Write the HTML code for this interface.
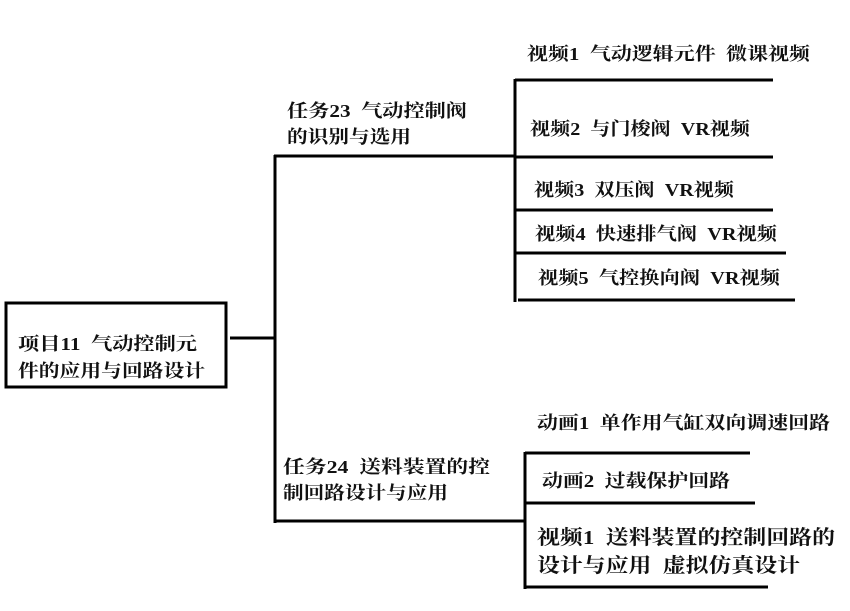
<!DOCTYPE html>
<html><head><meta charset="utf-8"><style>
html,body{margin:0;padding:0;background:#fff;}
svg{display:block;}
text{font-family:"Liberation Serif","Noto Serif CJK SC",serif;font-weight:bold;font-size:18px;fill:#111;white-space:pre;}
</style></head><body>
<svg width="850" height="611" viewBox="0 0 850 611" xmlns="http://www.w3.org/2000/svg" xml:space="preserve">
<g stroke="#000" stroke-width="3" fill="none">
<rect x="6" y="303" width="220" height="84"/>
<line x1="230" y1="338" x2="276" y2="338"/>
<line x1="275" y1="155" x2="275" y2="523"/>
<line x1="274" y1="156" x2="516" y2="156"/>
<line x1="515" y1="79" x2="515" y2="302"/>
<line x1="515" y1="80" x2="773" y2="80"/>
<line x1="515" y1="157" x2="773" y2="157"/>
<line x1="515" y1="210" x2="773" y2="210"/>
<line x1="515" y1="253" x2="786" y2="253"/>
<line x1="518" y1="300" x2="795" y2="300"/>
<line x1="274" y1="521" x2="526" y2="521"/>
<line x1="525" y1="452" x2="525" y2="589"/>
<line x1="525" y1="453" x2="750" y2="453"/>
<line x1="525" y1="503" x2="755" y2="503"/>
<line x1="525" y1="587" x2="768" y2="587"/>
</g>
<text x="18" y="350" textLength="179" lengthAdjust="spacingAndGlyphs">项目11  气动控制元</text>
<text x="18" y="377" textLength="187" lengthAdjust="spacingAndGlyphs">件的应用与回路设计</text>
<text x="287" y="117" textLength="180" lengthAdjust="spacingAndGlyphs">任务23  气动控制阀</text>
<text x="287" y="143" textLength="124" lengthAdjust="spacingAndGlyphs">的识别与选用</text>
<text x="527" y="60" textLength="283" lengthAdjust="spacingAndGlyphs">视频1  气动逻辑元件  微课视频</text>
<text x="530" y="135" textLength="220" lengthAdjust="spacingAndGlyphs">视频2  与门梭阀  VR视频</text>
<text x="534" y="196" textLength="200" lengthAdjust="spacingAndGlyphs">视频3  双压阀  VR视频</text>
<text x="535" y="240" textLength="242" lengthAdjust="spacingAndGlyphs">视频4  快速排气阀  VR视频</text>
<text x="538" y="284" textLength="242" lengthAdjust="spacingAndGlyphs">视频5  气控换向阀  VR视频</text>
<text x="283" y="473" textLength="207" lengthAdjust="spacingAndGlyphs">任务24  送料装置的控</text>
<text x="283" y="499" textLength="165" lengthAdjust="spacingAndGlyphs">制回路设计与应用</text>
<text x="537" y="429" textLength="293" lengthAdjust="spacingAndGlyphs">动画1  单作用气缸双向调速回路</text>
<text x="542" y="487" textLength="188" lengthAdjust="spacingAndGlyphs">动画2  过载保护回路</text>
<text x="537" y="544" textLength="298" lengthAdjust="spacingAndGlyphs" style="font-size:20px">视频1  送料装置的控制回路的</text>
<text x="537" y="572" textLength="263" lengthAdjust="spacingAndGlyphs" style="font-size:20px">设计与应用  虚拟仿真设计</text>
</svg>
</body></html>
